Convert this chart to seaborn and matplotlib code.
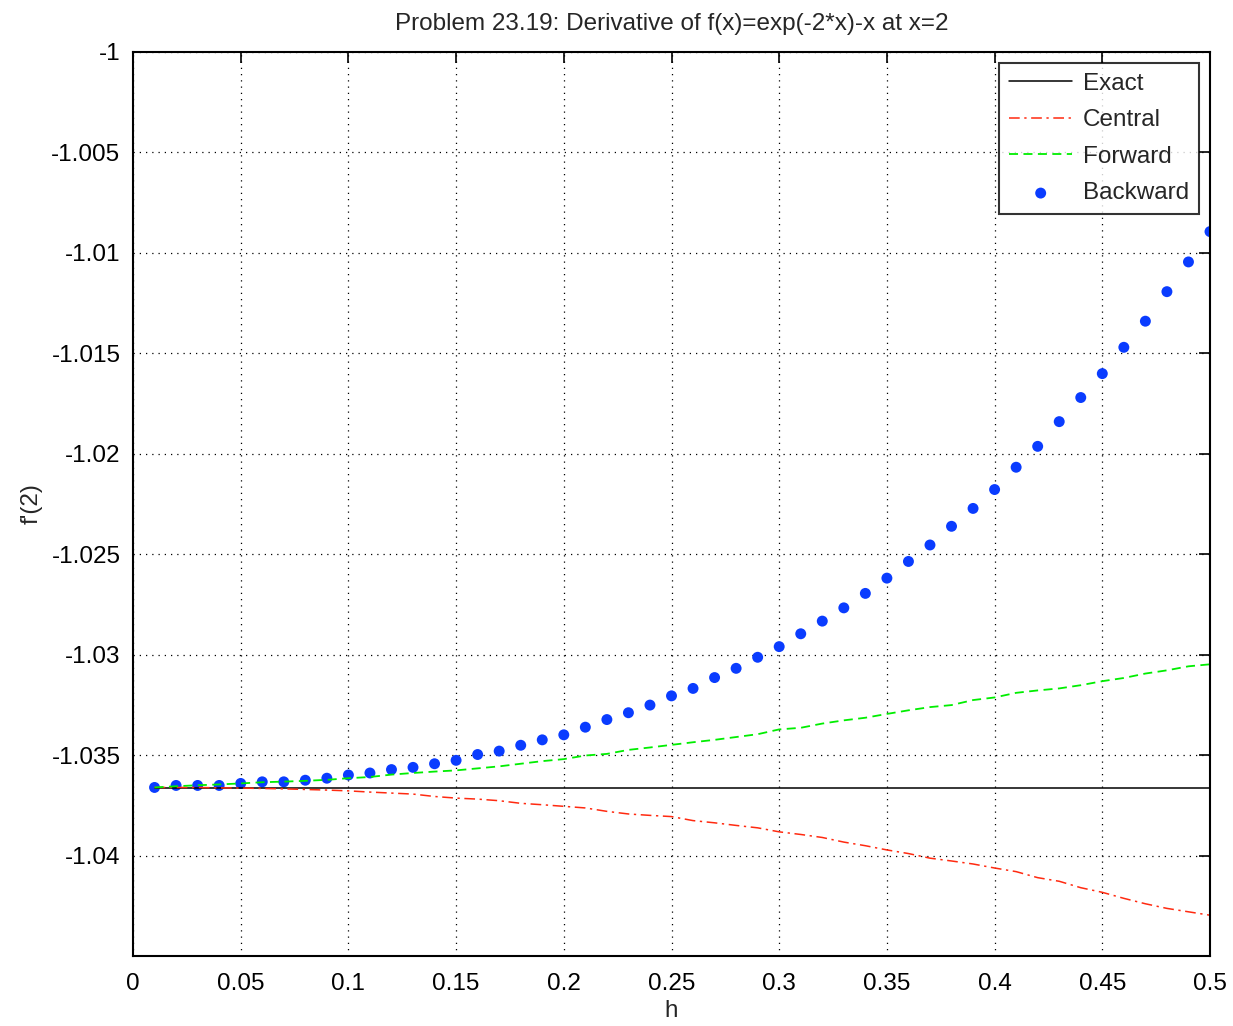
import numpy as np
import pandas as pd
import matplotlib
matplotlib.use("Agg")
import matplotlib.pyplot as plt
from matplotlib.ticker import FuncFormatter
import seaborn as sns

# step sizes h = 0.01 ... 0.50
h = [round(0.01 * i, 2) for i in range(1, 51)]

exact_value = -1.03663

central = [
    -1.03661, -1.03661, -1.03661, -1.03663, -1.03664, -1.03666, -1.03668, -1.03671, -1.03674, -1.03678,
    -1.03684, -1.03689, -1.03694, -1.03706, -1.03714, -1.03719, -1.03727, -1.03740, -1.03747, -1.03755,
    -1.03763, -1.03780, -1.03793, -1.03800, -1.03806, -1.03826, -1.03837, -1.03850, -1.03862, -1.03882,
    -1.03895, -1.03910, -1.03933, -1.03951, -1.03972, -1.03990, -1.04013, -1.04027, -1.04042, -1.04062,
    -1.04080, -1.04110, -1.04128, -1.04160, -1.04183, -1.04213, -1.04240, -1.04263, -1.04280, -1.04297,
]

forward = [
    -1.03661, -1.03655, -1.03650, -1.03646, -1.03641, -1.03635, -1.03632, -1.03628, -1.03623, -1.03615,
    -1.03609, -1.03597, -1.03589, -1.03582, -1.03576, -1.03566, -1.03556, -1.03543, -1.03530, -1.03520,
    -1.03502, -1.03494, -1.03474, -1.03462, -1.03449, -1.03436, -1.03424, -1.03410, -1.03396, -1.03372,
    -1.03364, -1.03343, -1.03327, -1.03314, -1.03295, -1.03277, -1.03261, -1.03251, -1.03226, -1.03213,
    -1.03190, -1.03178, -1.03168, -1.03152, -1.03132, -1.03116, -1.03094, -1.03078, -1.03058, -1.03048,
]

backward = [
    -1.03661, -1.03651, -1.03651, -1.03651, -1.03641, -1.03633, -1.03633, -1.03625, -1.03615, -1.03599,
    -1.03589, -1.03572, -1.03561, -1.03543, -1.03526, -1.03497, -1.03480, -1.03451, -1.03424, -1.03399,
    -1.03361, -1.03323, -1.03289, -1.03251, -1.03205, -1.03168, -1.03114, -1.03068, -1.03013, -1.02960,
    -1.02896, -1.02833, -1.02767, -1.02695, -1.02619, -1.02536, -1.02454, -1.02361, -1.02272, -1.02178,
    -1.02067, -1.01963, -1.01840, -1.01720, -1.01601, -1.01470, -1.01340, -1.01193, -1.01045, -1.00894,
]

x_ticks = [0, 0.05, 0.1, 0.15, 0.2, 0.25, 0.3, 0.35, 0.4, 0.45, 0.5]
y_ticks = [-1.04, -1.035, -1.03, -1.025, -1.02, -1.015, -1.01, -1.005, -1.0]

df = pd.DataFrame({
    "h": h,
    "Exact": [exact_value] * len(h),
    "Central": central,
    "Forward": forward,
    "Backward": backward,
})

FS = 17.5

sns.set_style("white")
plt.rcParams["font.family"] = ["Liberation Sans", "DejaVu Sans"]
plt.rcParams["font.size"] = FS

fig = plt.figure(figsize=(12.33, 10.26), dpi=100)
ax = fig.add_axes([133 / 1233, 1 - 956 / 1026, (1210 - 133) / 1233, (956 - 52) / 1026])

sns.lineplot(data=df, x="h", y="Exact", ax=ax, color="black", linewidth=1.1, label="Exact")
sns.lineplot(data=df, x="h", y="Central", ax=ax, color="#ff2a10", linewidth=1.1,
             linestyle=(0, (7, 3, 1.5, 3)), label="Central")
sns.lineplot(data=df, x="h", y="Forward", ax=ax, color="#00ee00", linewidth=1.3,
             linestyle=(0, (5, 3)), label="Forward")
sns.scatterplot(data=df, x="h", y="Backward", ax=ax, color="#0a3cff", s=62,
                edgecolor="none", label="Backward")

ax.set_xlim(0, 0.5)
ax.set_ylim(-1.045, -1.0)
ax.set_xticks(x_ticks)
ax.set_yticks(y_ticks)
ax.xaxis.set_major_formatter(FuncFormatter(lambda v, p: f"{v:g}"))
ax.yaxis.set_major_formatter(FuncFormatter(lambda v, p: f"{v:g}"))

ax.grid(True, color="black", linestyle=(0, (1, 4)), linewidth=0.9)
ax.tick_params(direction="in", length=8, width=1.2, top=True, right=True,
               labelsize=FS, colors="black")
ax.tick_params(axis="y", pad=9)
ax.tick_params(axis="x", pad=12)
for s in ax.spines.values():
    s.set_color("black")
    s.set_linewidth(1.5)

ax.set_xlabel("h", fontsize=FS, labelpad=4)
ax.set_ylabel("f'(2)", fontsize=FS, labelpad=6)
ax.set_title("Problem 23.19: Derivative of f(x)=exp(-2*x)-x at x=2", fontsize=FS, pad=16)

leg = ax.legend(loc="upper right", fontsize=FS, frameon=True, fancybox=False,
                edgecolor="black", handlelength=2.6, handletextpad=0.45,
                borderaxespad=0.45, labelspacing=0.6, borderpad=0.4)
leg.get_frame().set_linewidth(1.5)

fig.savefig("out.png", dpi=100)
